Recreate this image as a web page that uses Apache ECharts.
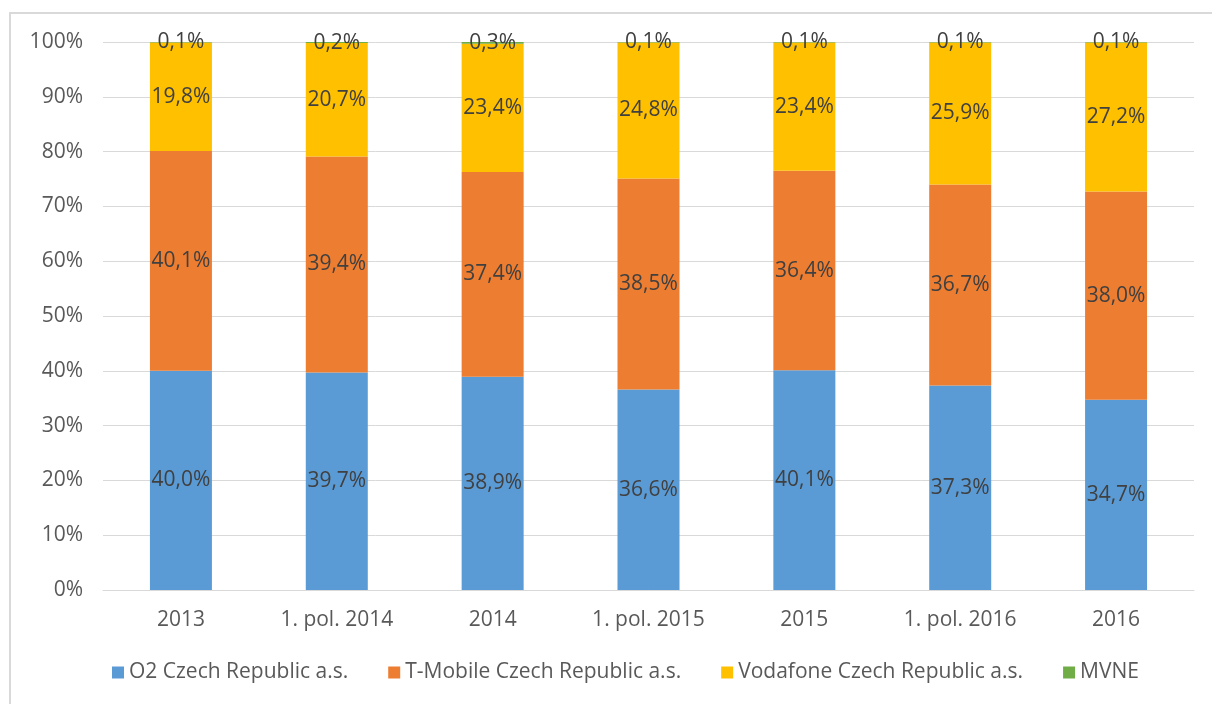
<!DOCTYPE html>
<html>
<head>
<meta charset="utf-8">
<script src="https://cdn.jsdelivr.net/npm/echarts@6/dist/echarts.min.js"></script>
<style>
    html, body { margin: 0; padding: 0; background: #fff; }
    #frame { position: absolute; left: 9px; top: 12px; width: 1203px; height: 692px;
             border-left: 2px solid #d9d9d9; border-top: 2px solid #d9d9d9; }
    #chart { position: absolute; left: 0; top: 0; width: 1212px; height: 704px; }
</style>
</head>
<body>
<div id="frame"></div>
<div id="chart"></div>
<script>
const categories = ["2013", "1. pol. 2014", "2014", "1. pol. 2015", "2015", "1. pol. 2016", "2016"]
const o2Values = [40.0, 39.7, 38.9, 36.6, 40.1, 37.3, 34.7]
const tmobileValues = [40.1, 39.4, 37.4, 38.5, 36.4, 36.7, 38.0]
const vodafoneValues = [19.8, 20.7, 23.4, 24.8, 23.4, 25.9, 27.2]
const mvneValues = [0.1, 0.2, 0.3, 0.1, 0.1, 0.1, 0.1]
const yTicks = [0, 10, 20, 30, 40, 50, 60, 70, 80, 90, 100]

const FONT = "'Open Sans', 'DejaVu Sans', sans-serif"
const FS = 21

// cisla s desetinnou carkou
function fmt(v) {
    return v.toFixed(1).replace(".", ",") + "%"
}

function makeSeries(name, data, color) {
    return {
        name: name,
        type: "bar",
        stack: "total",
        barWidth: 62,
        data: data,
        itemStyle: { color: color },
        label: {
            show: true,
            position: "inside",
            color: "#404040",
            fontFamily: FONT,
            fontSize: FS,
            formatter: (p) => fmt(p.value)
        }
    }
}

const chart = echarts.init(document.getElementById("chart"))
chart.setOption({
    animation: false,
    grid: { left: 103, right: 18, top: 42, bottom: 114 },
    legend: {
        left: 107,
        bottom: 16,
        itemWidth: 12,
        itemHeight: 12,
        itemGap: 40,
        icon: "rect",
        textStyle: { color: "#595959", fontFamily: FONT, fontSize: FS },
        data: ["O2 Czech Republic a.s.", "T-Mobile Czech Republic a.s.", "Vodafone Czech Republic a.s.", "MVNE"]
    },
    xAxis: {
        type: "category",
        data: categories,
        axisTick: { show: false },
        axisLine: { lineStyle: { color: "#d9d9d9", width: 1 } },
        axisLabel: { color: "#595959", fontFamily: FONT, fontSize: FS, margin: 20 }
    },
    yAxis: {
        type: "value",
        min: yTicks[0],
        max: yTicks[yTicks.length - 1],
        interval: 10,
        axisLine: { show: false },
        axisTick: { show: false },
        splitLine: { lineStyle: { color: "#d9d9d9", width: 1 } },
        axisLabel: { color: "#595959", fontFamily: FONT, fontSize: FS, margin: 20, formatter: "{value}%" }
    },
    series: [
        makeSeries("O2 Czech Republic a.s.", o2Values, "#5b9bd5"),
        makeSeries("T-Mobile Czech Republic a.s.", tmobileValues, "#ed7d31"),
        makeSeries("Vodafone Czech Republic a.s.", vodafoneValues, "#ffc000"),
        makeSeries("MVNE", mvneValues, "#70ad47")
    ]
})
</script>
</body>
</html>
